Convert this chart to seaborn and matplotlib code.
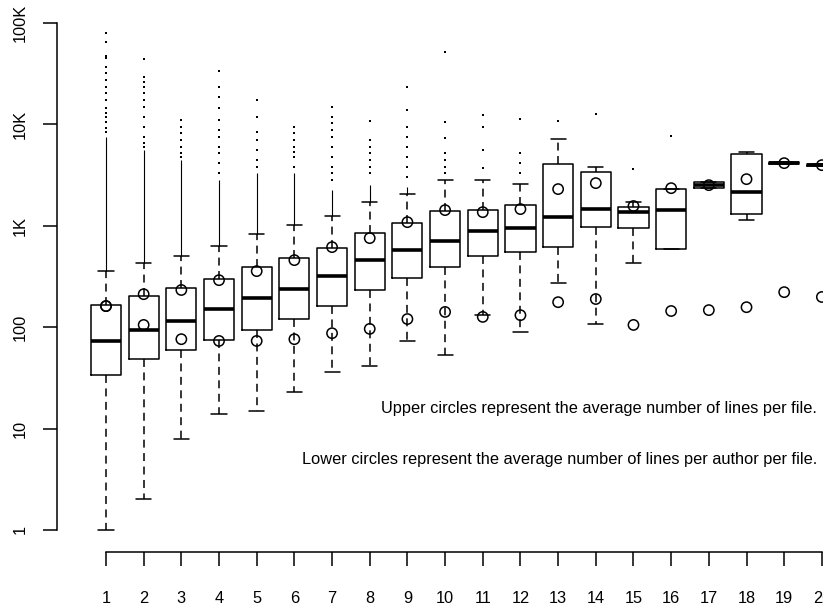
import numpy as np
import pandas as pd
import matplotlib
matplotlib.use("Agg")
import matplotlib.pyplot as plt
from matplotlib.ticker import NullLocator, FixedLocator
import seaborn as sns

# ---------------- data ----------------
groups = list(range(1, 21))
medians = [73, 93, 115, 150, 193, 237, 318, 457, 574, 703, 883, 945, 1213, 1455, 1358, 1422, 2506, 2138, 4129, 3945]
q1 = [34, 48, 59, 74.5, 93, 120, 161, 232, 304, 390, 501, 548, 614, 967, 945, 587, 2340, 1298, 4036, 3880]
q3 = [165, 202, 242, 297, 390, 478, 600, 844, 1059, 1390, 1422, 1592, 4036, 3365, 1521, 2291, 2684, 5063, 4272, 4010]
whisker_low = [1, 2, 7.9, 13.9, 14.9, 22.9, 36, 41, 73, 53, 131, 89, 271, 107, 427, 587, 2340, 1133, 4036, 3880]
whisker_high = [356, 427, 501, 628, 824, 1011, 1241, 1705, 2043, 2806, 2806, 2565, 7117, 3770, 1705, 2291, 2684, 5300, 4272, 4010]
upper_mean = [161, 211, 232, 290, 356, 457, 614, 753, 1082, 1422, 1358, 1455, 2291, 2623, 1560, 2340, 2506, 2871, 4129, 3945]
lower_mean = [161, 105, 76, 73, 73, 76, 87, 96, 120, 141, 126, 131, 176, 189, 105, 144, 147, 157, 221, 198]
# top of the densely packed run of outliers just above the upper whisker (0 = none)
dense_outlier_top = [7400, 5546, 4420, 2806, 3290, 3290, 2239, 2506, 2395, 0, 0, 0, 0, 0, 0, 0, 0, 0, 0, 0]
# individual sparse outliers per group
sparse_outliers = {
    1: [8340, 9140, 10470, 11720, 12830, 14380, 17220, 20180, 23170, 27120, 31770, 36460, 44670, 46750, 64270, 78800],
    2: [5930, 6500, 7450, 9340, 11720, 14690, 17220, 20180, 23170, 25940, 29040, 43650],
    3: [4730, 5180, 5930, 6950, 8150, 9340, 10940],
    4: [3290, 4130, 5180, 5930, 7450, 8730, 10940, 14380, 18450, 23170, 33270],
    5: [3770, 4420, 5546, 6950, 8340, 11720, 17220],
    6: [3770, 4730, 5300, 5930, 6950, 8150, 9340],
    7: [2806, 3290, 3770, 4730, 5930, 7450, 8730, 10230, 11720, 14690],
    8: [3290, 3770, 4420, 5180, 5930, 6950, 10710],
    9: [3006, 3770, 4730, 5930, 7450, 9340, 13740, 23170],
    10: [3290, 3770, 4420, 5180, 7280, 10470, 51200],
    11: [3690, 5546, 9340, 12270],
    12: [3290, 4130, 5180, 11200],
    13: [10710],
    14: [12560],
    15: [3605],
    16: [7620],
}
ytick_vals = [1, 10, 100, 1000, 10000, 100000]
ytick_labels = ["1", "10", "100", "1K", "10K", "100K"]
note_upper = "Upper circles represent the average number of lines per file."
note_lower = "Lower circles represent the average number of lines per author per file."

# ---------------- styling ----------------
sns.set_theme(style="white")
plt.rcParams["font.family"] = ["Liberation Sans", "DejaVu Sans"]

W, H = 823, 608
fig = plt.figure(figsize=(W / 100, H / 100), dpi=100)
ax = fig.add_axes([57 / W, 1 - 552 / H, 1 - 57 / W, 552 / H])

LW = 1.1
FS = 11.8
stats = []
for i in range(len(groups)):
    stats.append(dict(med=medians[i], q1=q1[i], q3=q3[i],
                      whislo=whisker_low[i], whishi=whisker_high[i], fliers=[]))

ax.bxp(stats, positions=groups, widths=0.8, capwidths=0.4, showfliers=False,
       patch_artist=False,
       boxprops=dict(color="black", linewidth=LW),
       medianprops=dict(color="black", linewidth=2.6, solid_capstyle="butt"),
       whiskerprops=dict(color="black", linewidth=LW, linestyle=(0, (5.2, 3.6))),
       capprops=dict(color="black", linewidth=LW))

# dense outlier runs
dx = [g for g, t in zip(groups, dense_outlier_top) if t > 0]
dlo = [w for w, t in zip(whisker_high, dense_outlier_top) if t > 0]
dhi = [t for t in dense_outlier_top if t > 0]
ax.vlines(dx, dlo, dhi, color="black", linewidth=0.8)

# sparse outliers
out_df = pd.DataFrame([(g, v) for g, vals in sparse_outliers.items() for v in vals],
                      columns=["group", "value"])
sns.scatterplot(data=out_df, x="group", y="value", ax=ax, marker="s", s=2.2,
                color="black", linewidth=0, legend=False)

# mean circles
mean_df = pd.DataFrame({"group": groups + groups, "value": upper_mean + lower_mean})
sns.scatterplot(data=mean_df, x="group", y="value", ax=ax, marker="o", s=55,
                facecolor="none", edgecolor="black", linewidth=LW, legend=False, zorder=5)

ax.set_yscale("log")
ax.set_xlim(-0.3, 20.03)
ax.set_ylim(10 ** (-22 / 101.46), 10 ** (530 / 101.46))
ax.yaxis.set_major_locator(FixedLocator(ytick_vals))
ax.yaxis.set_minor_locator(NullLocator())
ax.set_yticklabels(ytick_labels, rotation=90, va="center")
ax.set_xticks(groups)
ax.set_xticklabels([str(g) for g in groups])
ax.set_xlabel("")
ax.set_ylabel("")

for s in ["top", "right"]:
    ax.spines[s].set_visible(False)
for s in ["left", "bottom"]:
    ax.spines[s].set_color("black")
    ax.spines[s].set_linewidth(LW)
ax.spines["left"].set_bounds(1, 100000)
ax.spines["bottom"].set_bounds(1, 20)
ax.tick_params(axis="both", which="major", direction="out", length=10, width=LW,
               color="black", labelcolor="black", labelsize=FS, left=True, bottom=True)
ax.tick_params(axis="y", pad=11)
ax.tick_params(axis="x", pad=18)
ax.grid(False)

ax.text(19.88, 15.9, note_upper, ha="right", va="center", fontsize=FS, color="black")
ax.text(19.88, 4.9, note_lower, ha="right", va="center", fontsize=FS, color="black")

fig.savefig("out.png", dpi=100, facecolor="white")
